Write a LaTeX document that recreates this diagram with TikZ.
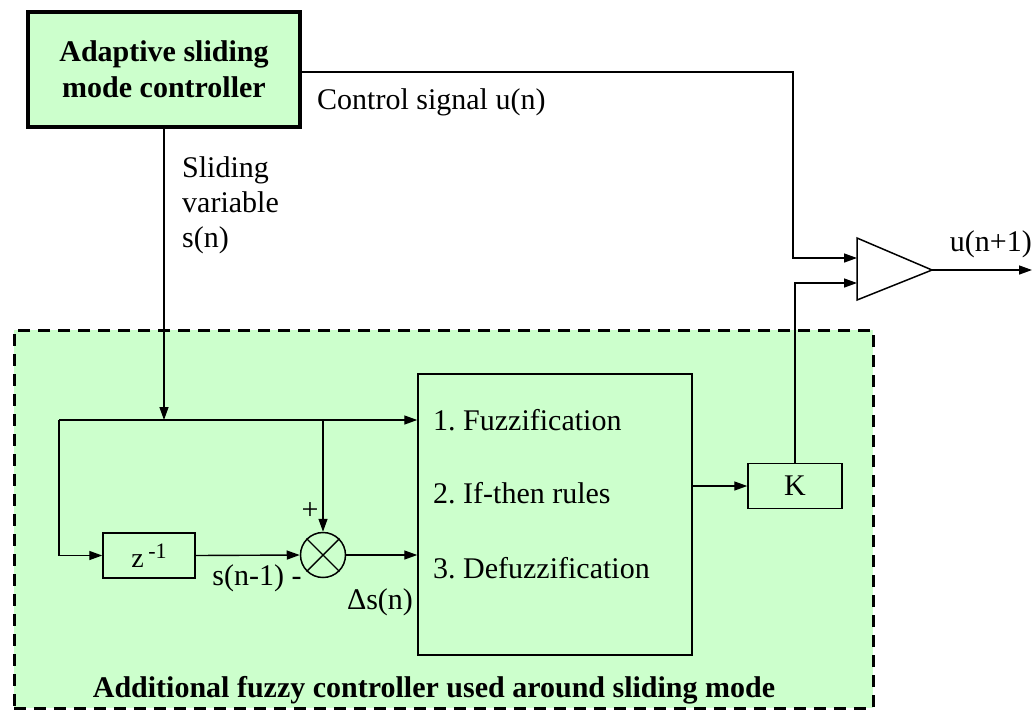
\documentclass[tikz,border=0pt]{standalone}
\usepackage{fontspec}
\setmainfont{Liberation Serif}
\usetikzlibrary{arrows.meta}
\definecolor{lg}{HTML}{CCFFCC}
\frenchspacing
\begin{document}
\begin{tikzpicture}[x=1pt,y=-1pt,
  txt/.style={font=\fontsize{30}{35}\selectfont, inner sep=0pt},
  btxt/.style={font=\fontsize{30}{36}\selectfont\bfseries, inner sep=0pt},
  blk/.style={draw, line width=1.5pt, inner sep=0pt},
  arr/.style={line width=1.4pt, -{Triangle[length=13pt,width=9pt]}},
  ln/.style={line width=1.4pt}]
\useasboundingbox (0,0) rectangle (1034,713);
% region
\node[draw, fill=lg, line width=3pt, dash pattern=on 12pt off 8pt, minimum width=859pt, minimum height=378pt, inner sep=0pt] (region) at (443.5,519) {};
\node[btxt] (title) at (434,690) {Additional fuzzy controller used around sliding mode};
% top box
\node[draw, fill=lg, line width=3.5pt, minimum width=272pt, minimum height=115pt, align=center, btxt] (asmc) at (164,69.5) {Adaptive sliding\\mode controller};
\node[txt, anchor=west] (ctl) at (317,102) {Control signal u(n)};
\node[txt, anchor=west, align=left] (slv) at (182,205) {Sliding\\variable\\s(n)};
% blocks
\node[blk, minimum width=274pt, minimum height=281pt] (fz) at (555,514.5) {};
\node[txt, anchor=west] (f1) at (433,420) {1. Fuzzification};
\node[txt, anchor=west] (f2) at (433,493) {2. If-then rules};
\node[txt, anchor=west] (f3) at (433,568) {3. Defuzzification};
\node[blk, minimum width=92pt, minimum height=45pt, font=\fontsize{28}{30}\selectfont] (zb) at (149,555.5) {z\,\raisebox{9pt}{\fontsize{22}{24}\selectfont -1}};
\node[blk, minimum width=94pt, minimum height=45pt, txt] (K) at (795,486) {K};
\node[draw, circle, line width=1.5pt, minimum size=45pt, inner sep=0pt] (sum) at (323,555) {};
\draw[ln] (sum.45) -- (sum.225) (sum.135) -- (sum.315);
\node[txt] (plus) at (310,511) {+};
\node[txt] (snm) at (257,578) {s(n-1) -};
\node[txt] (ds) at (380,602) {Δs(n)};
% amplifier
\coordinate (t1) at (857,238);
\coordinate (t2) at (932,270);
\coordinate (t3) at (857,300);
\draw[line width=1.5pt, fill=white] (t1) -- (t2) -- (t3) -- cycle;
\coordinate (in1) at (857,258);
\coordinate (in2) at (857,283);
\coordinate (endout) at (1032,270);
\node[txt, anchor=east] (uout) at (1032,244) {u(n+1)};
% connectors
\coordinate (c1) at (793,200);
\draw[arr] (asmc.east |- 0,72) -| (c1) |- (in1);
\coordinate (lt) at (59,420);
\coordinate (jn) at (164,420);
\coordinate (br) at (323,420);
\draw[arr] (asmc.south) -- (jn);
\draw[arr] (lt) -- (lt -| fz.west);
\draw[arr] (br) -- (sum.north);
\draw[arr] (lt) |- (zb.west);
\draw[arr] (zb.east) -- (sum.west);
\draw[arr] (sum.east) -- (sum.east -| fz.west);
\draw[arr] (K.west -| fz.east) -- (K.west);
\draw[arr] (K.north) |- (in2);
\draw[arr] (t2) -- (endout);
\end{tikzpicture}
\end{document}
